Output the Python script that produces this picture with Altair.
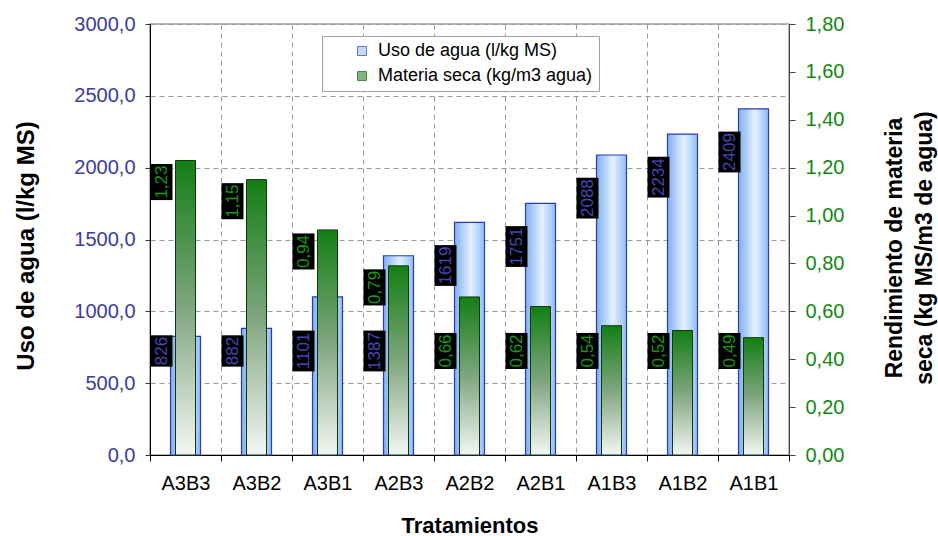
import altair as alt
import pandas as pd

# Treatments and measured series
tratamientos = ["A3B3", "A3B2", "A3B1", "A2B3", "A2B2", "A2B1", "A1B3", "A1B2", "A1B1"]
uso_agua = [826, 882, 1101, 1387, 1619, 1751, 2088, 2234, 2409]          # l/kg MS
materia_seca = [1.23, 1.15, 0.94, 0.79, 0.66, 0.62, 0.54, 0.52, 0.49]    # kg/m3 agua

SERIE_USO = "Uso de agua (l/kg MS)"
SERIE_MS = "Materia seca (kg/m3 agua)"

USO_MAX = 3000
MS_MAX = 1.8
PLOT_W = 639
PLOT_H = 431
UNITS_PER_PX = USO_MAX / PLOT_H
MS_TO_USO = USO_MAX / MS_MAX

FONT = "Liberation Sans"
LABEL_SIZE = 17

bars = pd.DataFrame({"trat": tratamientos, "uso": uso_agua, "ms": materia_seca})


def fmt_ms(v):
    return f"{v:.2f}".replace(".", ",")


def box_len(text):
    # approximate length (px) of the rotated label text plus a little margin
    return sum((0.278 if ch == "," else 0.556) * LABEL_SIZE for ch in text) + 3


# Data labels: each sits in a black box left of its bars; small values share a
# common low slot, large ones sit just below the top of their own bar.
LOW_SLOT = 724
rows = []
for t, u, m in zip(tratamientos, uso_agua, materia_seca):
    txt = str(u)
    c = u - 300 if u >= 1500 else LOW_SLOT
    h = box_len(txt) / 2 * UNITS_PER_PX
    rows.append({"trat": t, "texto": txt, "yc": c, "y0": c - h, "y1": c + h, "col": "#4646b6"})
    txt = fmt_ms(m)
    c = (m - 0.09) * MS_TO_USO if m >= 0.7 else LOW_SLOT
    h = box_len(txt) / 2 * UNITS_PER_PX
    rows.append({"trat": t, "texto": txt, "yc": c, "y0": c - h, "y1": c + h, "col": "#169a16"})
labels = pd.DataFrame(rows)

legend_df = pd.DataFrame({"trat": [tratamientos[0]] * 2, "serie": [SERIE_USO, SERIE_MS]})

x_enc = alt.X(
    "trat:N",
    sort=tratamientos,
    scale=alt.Scale(paddingInner=0, paddingOuter=0),
    axis=alt.Axis(
        title="Tratamientos",
        labelAngle=0,
        tickBand="extent",
        grid=True,
        gridDash=[5, 4],
        gridColor="#9a9a9a",
        domainColor="black",
        tickColor="black",
        tickSize=6,
        labelPadding=12,
        labelFontSize=20,
        labelColor="black",
        titleFontSize=22,
        titleColor="black",
        titleBaseline="alphabetic",
        titleY=77,
    ),
)

grad_uso = alt.Gradient(
    gradient="linear",
    stops=[
        alt.GradientStop(color="#7fb0ef", offset=0),
        alt.GradientStop(color="#e4f0ff", offset=0.55),
        alt.GradientStop(color="#8fbdf3", offset=1),
    ],
    x1=0, x2=1, y1=0, y2=0,
)

grad_ms = alt.Gradient(
    gradient="linear",
    stops=[
        alt.GradientStop(color="#137f13", offset=0),
        alt.GradientStop(color="#7fa57f", offset=0.5),
        alt.GradientStop(color="#f4f6f4", offset=1),
    ],
    x1=0, x2=0, y1=0, y2=1,
)

uso_scale = alt.Scale(domain=[0, USO_MAX], nice=False, zero=True)

uso_bars = alt.Chart(bars).mark_bar(
    fill=grad_uso, stroke="#2b3bb0", strokeWidth=1.2, size=30
).encode(
    x=x_enc,
    y=alt.Y(
        "uso:Q",
        scale=uso_scale,
        axis=alt.Axis(
            orient="left",
            values=[0, 500, 1000, 1500, 2000, 2500, 3000],
            labelExpr="replace(format(datum.value, '.1f'), '.', ',')",
            labelColor="#3c3c9c",
            labelFontSize=20,
            labelPadding=10,
            grid=True,
            gridDash=[5, 4],
            gridColor="#9a9a9a",
            domainColor="black",
            tickColor="#333333",
            tickSize=5,
            title=SERIE_USO,
            titleFontSize=24,
            titleColor="black",
            titleAngle=270,
            titleAlign="center",
            titleBaseline="middle",
            titleX=-124,
            titleY=PLOT_H / 2 + 6,
        ),
    ),
)

ms_bars = alt.Chart(bars).mark_bar(
    fill=grad_ms, stroke="#0a3a0a", strokeWidth=1, size=20
).encode(
    x=x_enc,
    y=alt.Y(
        "ms:Q",
        scale=alt.Scale(domain=[0, MS_MAX], nice=False, zero=True),
        axis=alt.Axis(
            orient="right",
            values=[0, 0.2, 0.4, 0.6, 0.8, 1.0, 1.2, 1.4, 1.6, 1.8],
            labelExpr="replace(format(datum.value, '.2f'), '.', ',')",
            labelColor="#118811",
            labelFontSize=20,
            labelPadding=10,
            grid=False,
            domainColor="#444444",
            tickColor="#444444",
            tickSize=6,
            title=["Rendimiento de materia", "seca (kg MS/m3 de agua)"],
            titleFontSize=23,
            titleColor="black",
            titleAngle=270,
            titleAlign="center",
            titleBaseline="top",
            titleLineHeight=30,
            titleX=94,
            titleY=PLOT_H / 2 + 8,
        ),
    ),
)

label_boxes = alt.Chart(labels).mark_bar(color="black", size=22, xOffset=-24).encode(
    x=x_enc,
    y=alt.Y("y0:Q", scale=uso_scale, axis=None),
    y2="y1:Q",
)

label_text = alt.Chart(labels).mark_text(
    angle=270, xOffset=-24, font=FONT, fontSize=LABEL_SIZE, align="center", baseline="middle"
).encode(
    x=x_enc,
    y=alt.Y("yc:Q", scale=uso_scale, axis=None),
    text="texto:N",
    color=alt.Color("col:N", scale=None),
)

leg = alt.Legend(
    title=None,
    orient="none",
    legendX=172,
    legendY=12,
    fillColor="white",
    strokeColor="#a0a0a0",
    padding=6,
    symbolOffset=25,
    labelOffset=7,
    labelFont=FONT,
    labelFontSize=18,
    labelColor="black",
    labelLimit=400,
    symbolType="square",
    symbolSize=81,
    symbolStrokeWidth=1,
    rowPadding=7,
)

legend_layer = alt.Chart(legend_df).mark_square(filled=True, size=81).encode(
    x=x_enc,
    fill=alt.Fill(
        "serie:N",
        scale=alt.Scale(domain=[SERIE_USO, SERIE_MS], range=["#a8ccf6", "#4e934e"]),
        legend=leg,
    ),
    stroke=alt.Stroke(
        "serie:N",
        scale=alt.Scale(domain=[SERIE_USO, SERIE_MS], range=["#2a3aaa", "#0a4a0a"]),
        legend=leg,
    ),
).transform_filter("false")

chart = alt.layer(
    uso_bars, ms_bars, label_boxes, label_text, legend_layer
).resolve_scale(
    y="independent"
).properties(
    width=PLOT_W,
    height=PLOT_H,
    autosize=alt.AutoSizeParams(type="none"),
    padding={"left": 150, "top": 24, "right": 149, "bottom": 81},
    background="white",
).configure_view(
    stroke="#a0a0a0", strokeWidth=1.5
).configure_axis(
    labelFont=FONT, titleFont=FONT, titleFontWeight="bold"
)

chart.save("out.html", embed_options={"renderer": "svg", "actions": False})
